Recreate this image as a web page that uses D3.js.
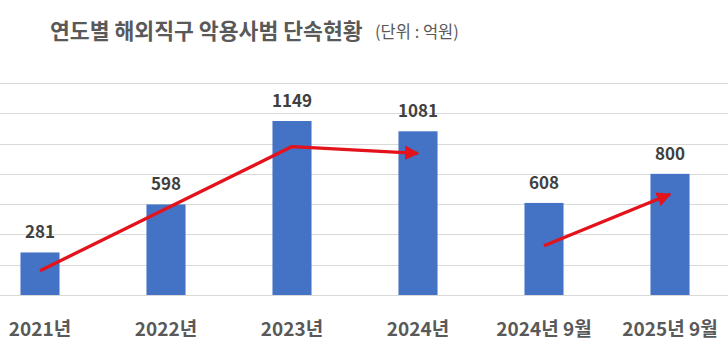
<!DOCTYPE html>
<html><head><meta charset="utf-8">
<script src="https://cdn.jsdelivr.net/npm/d3@7"></script>
<style>html,body{margin:0;padding:0;background:#fff;}svg{display:block;}</style>
</head><body>
<svg id="c" width="728" height="352"></svg>
<script>
const categories = ["2021년","2022년","2023년","2024년","2024년 9월","2025년 9월"];
const values = [281, 598, 1149, 1081, 608, 800];
const yTicks = [0, 200, 400, 600, 800, 1000, 1200, 1400];
const trend1Cats = ["2021년","2023년","2024년"];
const trend1Vals = [160, 980, 935];
const trend2Cats = ["2024년 9월","2025년 9월"];
const trend2Vals = [325, 665];
const titleText = "연도별 해외직구 악용사범 단속현황";
const unitText = "(단위 : 억원)";

const svg = d3.select("#c");
const W = 728, H = 352;
svg.append("rect").attr("width", W).attr("height", H).attr("fill", "#fff");

const x = d3.scaleBand().domain(categories).range([-23, 733]).paddingInner(0.69).paddingOuter(0.345);
const y = d3.scaleLinear().domain([0, 1400]).range([295, 83]);
const font = "'Noto Sans CJK KR', 'Noto Sans', sans-serif";
const gray = "#595959";

// gridlines
svg.append("g").selectAll("line").data(yTicks).join("line")
  .attr("x1", 0).attr("x2", W)
  .attr("y1", d => Math.round(y(d)) + 0.5).attr("y2", d => Math.round(y(d)) + 0.5)
  .attr("stroke", "#d9d9d9").attr("stroke-width", 1.2);

// bars
svg.append("g").selectAll("rect").data(values).join("rect")
  .attr("x", (d, i) => x(categories[i]))
  .attr("width", x.bandwidth())
  .attr("y", d => y(d))
  .attr("height", d => y(0) - y(d))
  .attr("fill", "#4472c4");

// value labels
svg.append("g").selectAll("text").data(values).join("text")
  .attr("x", (d, i) => x(categories[i]) + x.bandwidth() / 2)
  .attr("y", d => y(d) - 14)
  .attr("text-anchor", "middle")
  .attr("font-family", font).attr("font-weight", 700).attr("font-size", 17)
  .attr("fill", "#404040")
  .text(d => d);

// category labels
svg.append("g").selectAll("text").data(categories).join("text")
  .attr("x", d => x(d) + x.bandwidth() / 2)
  .attr("y", 336)
  .attr("text-anchor", "middle")
  .attr("font-family", font).attr("font-weight", 700).attr("font-size", 19)
  .attr("fill", gray)
  .text(d => d);

// arrows
const red = "#e3121b";
const defs = svg.append("defs");
defs.append("marker").attr("id", "ah")
  .attr("viewBox", "0 0 10 10").attr("refX", 9).attr("refY", 5)
  .attr("markerWidth", 4.4).attr("markerHeight", 4.4).attr("orient", "auto")
  .attr("markerUnits", "strokeWidth")
  .append("path").attr("d", "M0,0 L10,5 L0,10 Z").attr("fill", red);

const line = d3.line().x(d => x(d[0]) + x.bandwidth() / 2).y(d => y(d[1]));
[[trend1Cats, trend1Vals], [trend2Cats, trend2Vals]].forEach(([cs, vs]) => {
  svg.append("path")
    .attr("d", line(cs.map((c, i) => [c, vs[i]])))
    .attr("fill", "none").attr("stroke", red).attr("stroke-width", 3.3)
    .attr("stroke-linejoin", "round")
    .attr("marker-end", "url(#ah)");
});

// title
svg.append("text").attr("x", 50).attr("y", 38.5)
  .attr("font-family", font).attr("fill", gray)
  .attr("font-weight", 700).attr("font-size", 21.6).text(titleText);
svg.append("text").attr("x", 375).attr("y", 38)
  .attr("font-family", font).attr("fill", gray).attr("font-size", 16.5)
  .text(unitText);
</script>
</body></html>
